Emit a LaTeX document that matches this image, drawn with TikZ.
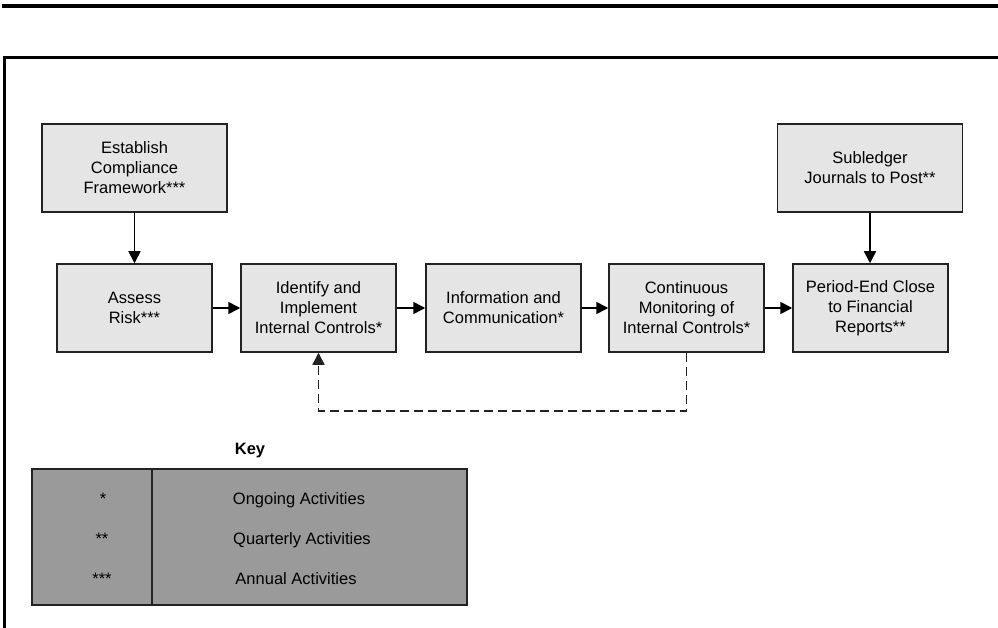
\documentclass[tikz,border=0pt]{standalone}
\usepackage{fontspec}
\setmainfont{Liberation Sans}
\usetikzlibrary{arrows.meta}
\definecolor{boxfill}{HTML}{E5E5E5}
\definecolor{keyfill}{HTML}{9A9A9A}
\definecolor{edge}{HTML}{222222}
\begin{document}
\begin{tikzpicture}[x=1pt,y=-1pt,
  every node/.style={font=\fontsize{16.5}{20}\selectfont},
  procbox/.style={draw=edge, line width=1.5pt, fill=boxfill, inner sep=0pt,
    align=center, minimum width=155pt, minimum height=88pt},
  widebox/.style={procbox, minimum width=185pt},
  flow/.style={line width=1.6pt, -{Triangle[length=12pt,width=12pt]}},
  feedback/.style={line width=1.6pt, draw=edge, dash pattern=on 9pt off 5pt,
    -{Triangle[length=12pt,width=12pt]}},
  keytext/.style={anchor=base, inner sep=0pt}]
\useasboundingbox (0,0) rectangle (998,628);

% page rules
\draw[line width=4pt] (2,6) -- (998,6);
\draw[line width=3.2pt] (4.5,628) -- (4.5,57.5) -- (998,57.5);

% process boxes
\node[widebox] (est) at (134.5,168) {Establish\\Compliance\\Framework***};
\node[widebox] (sub) at (870,168) {Subledger\\Journals to Post**};
\node[procbox] (assess) at (134.5,308) {Assess\\Risk***};
\node[procbox] (ident) at (318.5,308) {Identify and\\Implement\\Internal Controls*};
\node[procbox] (info) at (503.5,308) {Information and\\Communication*};
\node[procbox] (cont) at (686.5,308) {Continuous\\Monitoring of\\Internal Controls*};
\node[procbox] (per) at (870.5,308) {Period-End Close\\to Financial\\Reports**};

% connectors
\draw[flow] (est) -- (assess);
\draw[flow] (sub.south) -- (sub.south |- per.north);
\draw[flow] (assess) -- (ident);
\draw[flow] (ident) -- (info);
\draw[flow] (info) -- (cont);
\draw[flow] (cont) -- (per);
\draw[feedback] (cont.south) -- ++(0,58) -| (ident.south);

% key
\node[font=\fontsize{16.5}{20}\selectfont\bfseries, inner sep=0pt] (keyhead) at (250,451) {Key};
\draw[draw=edge, line width=1.6pt, fill=keyfill] (32,469) rectangle (467,605);
\draw[draw=edge, line width=2pt] (152,469) -- (152,605);
\node[keytext] (k1) at (103,504) {*};
\node[keytext] (k2) at (102,544) {**};
\node[keytext] (k3) at (102,584) {***};
\node[keytext] (v1) at (299,504) {Ongoing Activities};
\node[keytext] (v2) at (302,544) {Quarterly Activities};
\node[keytext] (v3) at (296,584) {Annual Activities};
\end{tikzpicture}
\end{document}
